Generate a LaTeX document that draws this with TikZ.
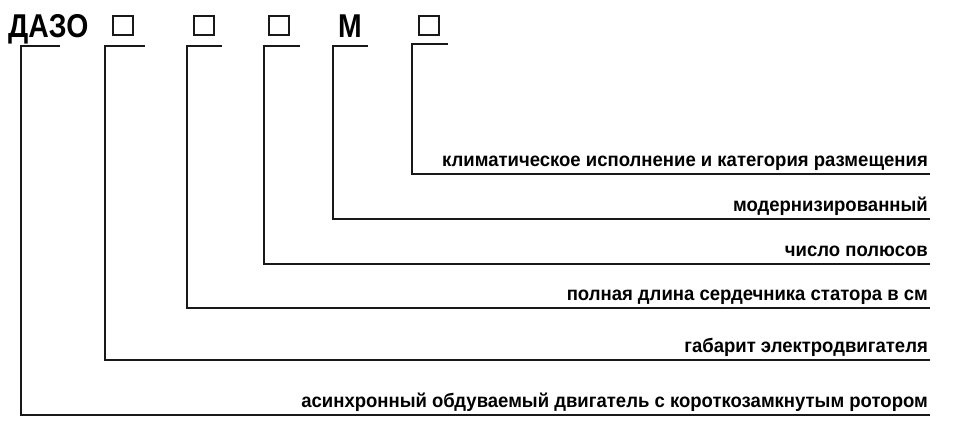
\documentclass[tikz,border=0pt]{standalone}
\usepackage{fontspec}
\setmainfont{Liberation Sans}[FakeStretch=0.95]
\newfontfamily\ttlfont{Liberation Sans}[FakeStretch=0.86]
\begin{document}
\begin{tikzpicture}[x=1pt,y=-1pt,
  br/.style={line width=2.2pt,color=black!90},
  bx/.style={line width=2pt,color=black!90},
  lab/.style={anchor=base east,inner sep=0pt,font=\fontsize{19.5}{20}\selectfont\bfseries},
  ttl/.style={anchor=base west,inner sep=0pt,font=\ttlfont\fontsize{33}{34}\selectfont\bfseries}]
\useasboundingbox (0,0) rectangle (955,447);
\node[ttl] (t) at (8,37) {ДАЗО};
\node[ttl,anchor=base] (m) at (350,37) {М};
\draw[bx] (113,16) rectangle (133,35);
\draw[bx] (194,16) rectangle (214,35);
\draw[bx] (269,16) rectangle (289,35);
\draw[bx] (419,16) rectangle (439,35);
\coordinate (e1) at (930,415);
\coordinate (e2) at (930,360);
\coordinate (e3) at (930,308);
\coordinate (e4) at (930,264);
\coordinate (e5) at (930,219);
\coordinate (e6) at (930,174);
\draw[br] (60,46) -- (21,46) -- (21,415) -- (e1);
\draw[br] (145,46) -- (105,46) -- (105,360) -- (e2);
\draw[br] (222,46) -- (187,46) -- (187,308) -- (e3);
\draw[br] (300,46) -- (264,46) -- (264,264) -- (e4);
\draw[br] (368,46) -- (333,46) -- (333,219) -- (e5);
\draw[br] (448,44) -- (412,44) -- (412,174) -- (e6);
\node[lab] (l1) at (928,407) {асинхронный обдуваемый двигатель с короткозамкнутым ротором};
\node[lab] (l2) at (928,352) {габарит электродвигателя};
\node[lab] (l3) at (928,300) {полная длина сердечника статора в см};
\node[lab] (l4) at (928,256) {число полюсов};
\node[lab] (l5) at (928,211) {модернизированный};
\node[lab] (l6) at (928,166) {климатическое исполнение и категория размещения};
\end{tikzpicture}
\end{document}
